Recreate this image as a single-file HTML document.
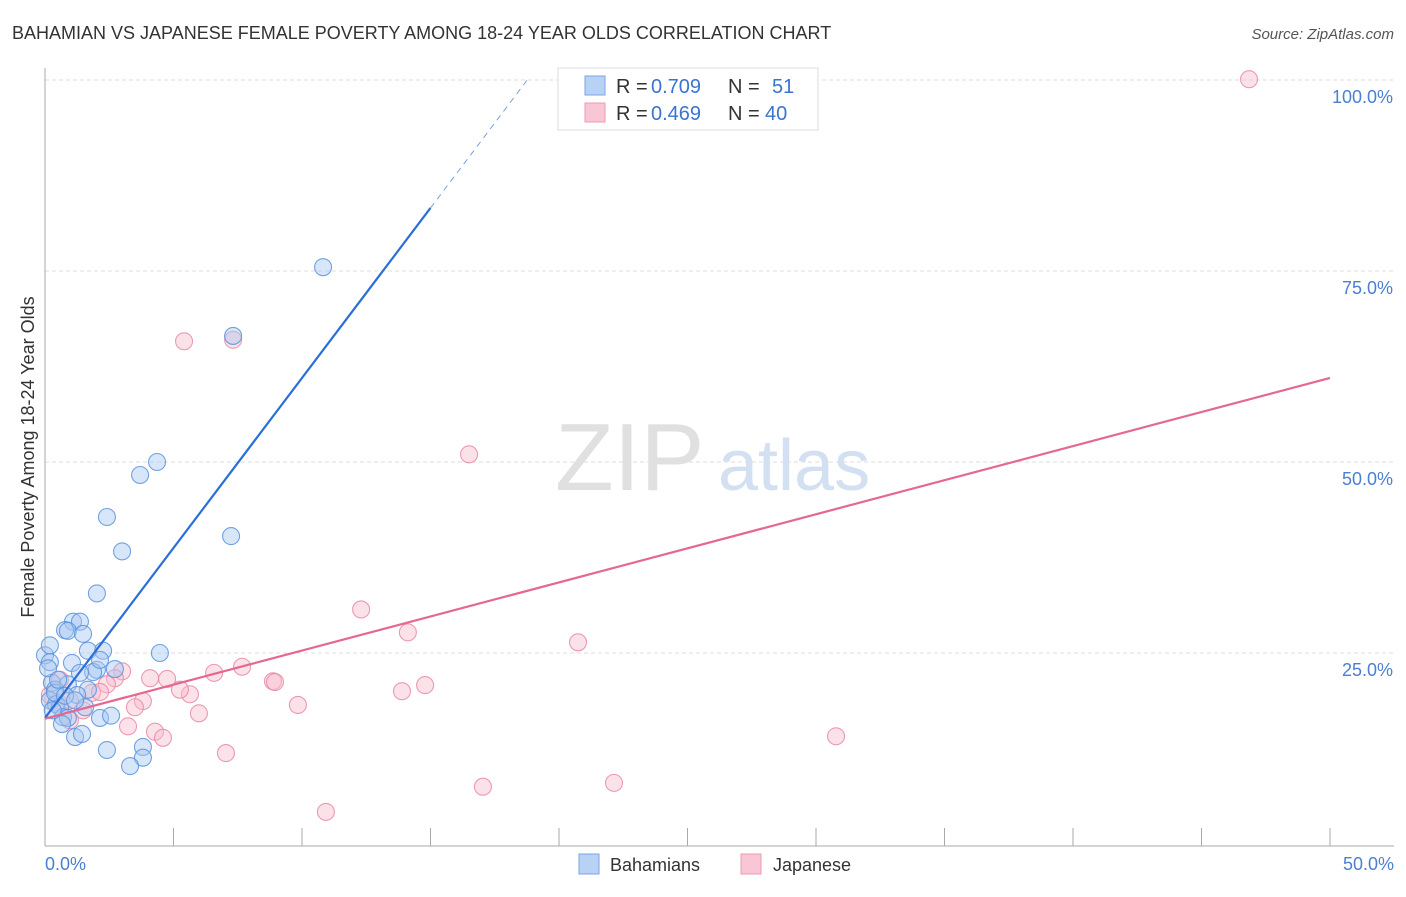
<!DOCTYPE html>
<html><head><meta charset="utf-8"><style>
body{margin:0;background:#fff;font-family:"Liberation Sans",sans-serif}
svg text{font-family:"Liberation Sans",sans-serif}
</style></head><body>
<svg width="1406" height="892">
<text x="12" y="39" font-size="18" fill="#333">BAHAMIAN VS JAPANESE FEMALE POVERTY AMONG 18-24 YEAR OLDS CORRELATION CHART</text>
<text x="1394" y="39" font-size="15" fill="#555" font-style="italic" text-anchor="end">Source: ZipAtlas.com</text>
<g id="grid"></g>
<text x="555" y="490" font-size="96" fill="#e0e0e0" font-family="Liberation Serif">ZIP</text>
<text x="718" y="490" font-size="72" fill="#d3e0f2">atlas</text>
<line x1="45" y1="68" x2="45" y2="846" stroke="#aaa"/>
<line x1="45" y1="846" x2="1394" y2="846" stroke="#aaa"/>
<g id="ticks"></g>
<text transform="translate(34,457) rotate(-90)" font-size="18" fill="#333" text-anchor="middle">Female Poverty Among 18-24 Year Olds</text>
<text x="45" y="870" font-size="18" fill="#4a7fd4">0.0%</text>
<text x="1394" y="870" font-size="18" fill="#4a7fd4" text-anchor="end">50.0%</text>
<g id="pts"></g>
<g id="lines"></g>
<g>
<rect x="558" y="68" width="260" height="62" fill="#fff" stroke="#ddd"/>
<rect x="585" y="76" width="20" height="19" fill="#b8d2f5" stroke="#7aa6e4"/>
<rect x="585" y="103" width="20" height="19" fill="#f8c6d4" stroke="#ee9ab3"/>
<text x="616" y="93" font-size="20" fill="#333">R =</text>
<text x="651" y="93" font-size="20" fill="#3a74d0">0.709</text>
<text x="728" y="93" font-size="20" fill="#333">N =</text>
<text x="772" y="93" font-size="20" fill="#3a74d0">51</text>
<text x="616" y="120" font-size="20" fill="#333">R =</text>
<text x="651" y="120" font-size="20" fill="#3a74d0">0.469</text>
<text x="728" y="120" font-size="20" fill="#333">N =</text>
<text x="765" y="120" font-size="20" fill="#3a74d0">40</text>
</g>
<g>
<rect x="579" y="854" width="20" height="20" fill="#b8d2f5" stroke="#7aa6e4"/>
<text x="610" y="871" font-size="18" fill="#333">Bahamians</text>
<rect x="741" y="854" width="20" height="20" fill="#f8c6d4" stroke="#ee9ab3"/>
<text x="773" y="871" font-size="18" fill="#333">Japanese</text>
</g>
</svg>
<script>
const blueX=[10.82,7.32,4.36,3.70,2.41,7.24,3.00,2.02,1.09,1.36,0.78,0.89,1.48,4.47,2.26,1.67,0,2.72,0.19,1.05,2.02,1.87,1.36,0.27,0.89,0.39,1.67,1.25,0.19,0.43,0.58,1.56,0.70,0.89,2.14,2.57,0.66,1.17,1.44,2.41,3.81,3.81,3.31,0.12,0.39,0.78,0.51,0.19,1.17,2.14,0.3];
const blueY=[75.5,66.5,50.0,48.3,42.8,40.3,38.3,32.8,29.1,29.1,28.0,27.9,27.5,25.0,25.3,25.3,24.7,22.9,23.8,23.7,22.8,22.5,22.4,21.1,20.9,20.2,20.2,19.5,18.8,18.3,17.9,17.9,16.6,16.5,16.5,16.8,15.7,14.0,14.4,12.3,12.7,11.3,10.2,23.0,19.8,19.4,21.5,26.0,18.8,24.1,17.5];
const pinkX=[46.85,5.41,7.32,16.50,12.30,14.12,20.74,7.67,6.58,8.87,8.95,14.79,13.89,4.75,4.09,5.64,5.25,3.00,2.72,2.41,1.83,1.48,0.51,3.81,3.50,9.84,5.99,30.78,4.28,4.59,3.23,7.04,17.04,22.14,10.93,0.97,0.58,0.19,2.14,0.97];
const pinkY=[100.1,65.8,66.0,51.0,30.7,27.7,26.4,23.2,22.4,21.3,21.2,20.8,20.0,21.6,21.7,19.6,20.2,22.6,21.7,20.9,19.8,17.5,18.5,18.7,17.9,18.2,17.1,14.1,14.7,13.9,15.4,11.9,7.5,8.0,4.2,16.2,21.5,19.5,19.9,18.8];
const yTicks=[25,50,75,100];
const yTickLabels=["25.0%","50.0%","75.0%","100.0%"];
const xTicks=[0,5,10,15,20,25,30,35,40,45,50];
const blueFit=[16.5,4.45];
const pinkFit=[16.4,0.892];
const NS="http://www.w3.org/2000/svg";
const sx=v=>45+v*25.7, sy=v=>844-v*7.64;
function mk(t,a,p){const e=document.createElementNS(NS,t);for(const k in a)e.setAttribute(k,a[k]);document.getElementById(p).appendChild(e);return e;}
yTicks.forEach((v,i)=>{
 const l=mk('line',{x1:45,x2:1394,y1:sy(v),y2:sy(v),stroke:'#ddd','stroke-dasharray':'4,3'},'grid');
 
 
 const t=mk('text',{x:1393,y:sy(v)+23,'font-size':18,fill:'#4a7fd4','text-anchor':'end'},'grid');
 t.textContent=yTickLabels[i];
 
 
});
xTicks.forEach(v=>{
 const l=mk('line',{x1:sx(v),x2:sx(v),y1:828,y2:846,stroke:'#aaa'},'ticks');
 
 
});
function pts(X,Y,fill,stroke,name){X.forEach((x,i)=>{
 const c=mk('circle',{cx:sx(x),cy:sy(Y[i]),r:8.5,fill:fill,'fill-opacity':0.45,stroke:stroke,'stroke-width':1.1,'stroke-opacity':0.85},'pts');
 
 
});}
pts(pinkX,pinkY,'#f6bccd','#e98aa8','japanese-point');
pts(blueX,blueY,'#a9c8f2','#5b93dd','bahamian-point');
const b1=mk('line',{x1:sx(0),y1:sy(blueFit[0]),x2:sx(15),y2:sy(blueFit[0]+15*blueFit[1]),stroke:'#2a6fd8','stroke-width':2.2},'lines');


const xe=(100-blueFit[0])/blueFit[1];
const b2=mk('line',{x1:sx(15),y1:sy(blueFit[0]+15*blueFit[1]),x2:sx(xe),y2:sy(100),stroke:'#7aa0dc','stroke-width':1,'stroke-dasharray':'6,5'},'lines');


const p1=mk('line',{x1:sx(0),y1:sy(pinkFit[0]),x2:sx(50),y2:sy(pinkFit[0]+50*pinkFit[1]),stroke:'#e46890','stroke-width':2.2},'lines');


</script>
</body></html>
